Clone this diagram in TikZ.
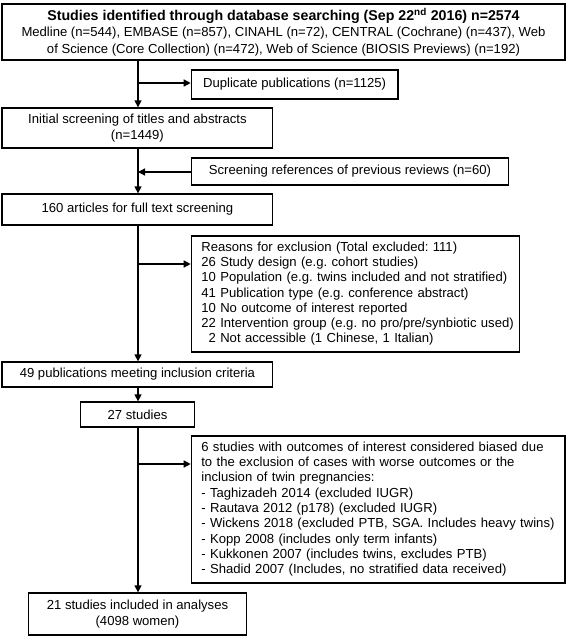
\documentclass[tikz,border=0pt]{standalone}
\usepackage{fontspec}
\setmainfont{Liberation Sans}
\usetikzlibrary{arrows.meta}
\frenchspacing
\begin{document}
\begin{tikzpicture}[x=1pt,y=-1pt,
  box/.style={draw, line width=1.3pt, inner sep=0pt, font=\fontsize{13.1}{15.3}\selectfont\frenchspacing},
  lbox/.style={box, align=left, inner xsep=10pt},
  conn/.style={line width=1.3pt},
  arr/.style={conn, -{Triangle[width=7pt,length=7pt]}}]
\useasboundingbox (0,0) rectangle (567,637);
\node[box, minimum width=563pt, minimum height=56pt, align=center, font=\fontsize{13.1}{16.5}\selectfont] (src) at (283.5,32)
  {{\fontsize{14.2}{16.5}\selectfont\bfseries Studies identified through database searching (Sep 22\textsuperscript{nd} 2016) n=2574}\\
   Medline (n=544), EMBASE (n=857), CINAHL (n=72), CENTRAL (Cochrane) (n=437), Web\\
   of Science (Core Collection) (n=472), Web of Science (BIOSIS Previews) (n=192)};
\node[box, minimum width=206.5pt, minimum height=29pt] (dup) at (294.6,84.5) {Duplicate publications (n=1125)};
\node[box, minimum width=270.8pt, minimum height=40pt, align=center] (init) at (137.4,128)
  {Initial screening of titles and abstracts\\(n=1449)};
\node[box, minimum width=317.4pt, minimum height=27pt] (refs) at (350,171.5) {Screening references of previous reviews (n=60)};
\node[box, minimum width=270.8pt, minimum height=31pt] (full) at (137.4,209.5) {160 articles for full text screening};
\node[lbox, text width=308.3pt, minimum height=116pt] (excl) at (355.5,294)
  {\begin{tabular}{@{}l@{}}
   Reasons for exclusion (Total excluded: 111)\\
   26 Study design (e.g. cohort studies)\\
   10 Population (e.g. twins included and not stratified)\\
   41 Publication type (e.g. conference abstract)\\
   10 No outcome of interest reported\\
   22 Intervention group (e.g. no pro/pre/synbiotic used)\\
   \hphantom{0}2 Not accessible (1 Chinese, 1 Italian)
   \end{tabular}};
\node[box, minimum width=270.8pt, minimum height=25pt] (pubs) at (137.4,374.5) {49 publications meeting inclusion criteria};
\node[box, minimum width=114.2pt, minimum height=25pt] (s27) at (137.5,414.5) {27 studies};
\node[lbox, text width=353.7pt, minimum height=147pt] (bias) at (378.2,509.5)
  {\begin{tabular}{@{}l@{}}
   6 studies with outcomes of interest considered biased due\\
   to the exclusion of cases with worse outcomes or the\\
   inclusion of twin pregnancies:\\
   - Taghizadeh 2014 (excluded IUGR)\\
   - Rautava 2012 (p178) (excluded IUGR)\\
   - Wickens 2018 (excluded PTB, SGA. Includes heavy twins)\\
   - Kopp 2008 (includes only term infants)\\
   - Kukkonen 2007 (includes twins, excludes PTB)\\
   - Shadid 2007 (Includes, no stratified data received)
   \end{tabular}};
\node[box, minimum width=218.4pt, minimum height=42pt, align=center] (final) at (137.5,614)
  {21 studies included in analyses\\(4098 women)};
% connectors
\coordinate (b1) at (138,83);
\coordinate (b2) at (138,172);
\coordinate (b3) at (138,264);
\coordinate (b4) at (138,464);
\draw[arr] (src.south -| b1) -- (init.north -| b1);
\draw[arr] (b1) -- (b1 -| dup.west);
\draw[arr] (init.south -| b2) -- (full.north -| b2);
\draw[arr] (b2 -| refs.west) -- (b2);
\draw[arr] (full.south -| b3) -- (pubs.north -| b3);
\draw[arr] (b3) -- (b3 -| excl.west);
\draw[arr] (pubs.south -| b4) -- (s27.north -| b4);
\draw[arr] (s27.south -| b4) -- (final.north -| b4);
\draw[arr] (b4) -- (b4 -| bias.west);
\end{tikzpicture}
\end{document}
